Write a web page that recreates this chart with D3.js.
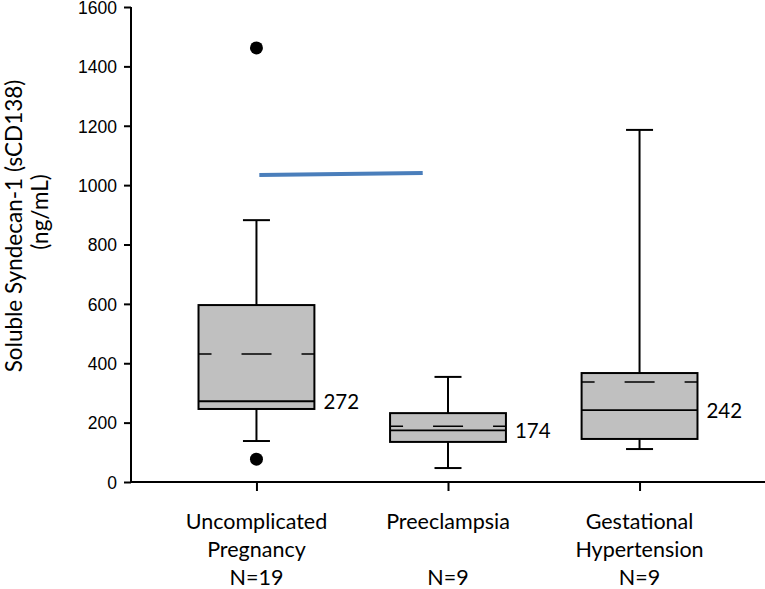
<!DOCTYPE html>
<html>
<head>
<meta charset="utf-8">
<script src="https://cdn.jsdelivr.net/npm/d3@7"></script>
<style>
  html, body { margin: 0; padding: 0; background: #fff; }
  svg { display: block; }
</style>
</head>
<body>
<svg id="chart" width="765" height="589"></svg>
<script>
// ---- data ----
const categories = ["Uncomplicated Pregnancy", "Preeclampsia", "Gestational Hypertension"];
const labelLines = [
  ["Uncomplicated", "Pregnancy", "N=19"],
  ["Preeclampsia", "", "N=9"],
  ["Gestational", "Hypertension", "N=9"]
];
const q1Values = [246, 135, 145];
const q3Values = [596, 232, 367];
const medianValues = [272, 174, 242];
const meanValues = [431, 188, 337];
const whiskerLow = [138, 47, 111];
const whiskerHigh = [882, 354, 1186];
const outlierValues = [[77, 1462], [], []];
const yTicks = [0, 200, 400, 600, 800, 1000, 1200, 1400, 1600];
const refLineValues = [1034, 1041];      // blue annotation line (start, end)
const refLineOffsets = [0.015, 0.868];   // in category steps from first category

// ---- layout ----
const svg = d3.select("#chart");
const y = d3.scaleLinear().domain([0, 1600]).range([482, 7]);
const x = d3.scalePoint().domain(categories).range([131, 765]).padding(0.655);
const step = x.step();
const boxW = step * 0.605;
const capW = 27;
const hfont = "Lato, 'Open Sans', sans-serif";

// y axis
const yAxis = d3.axisLeft(y).tickValues(yTicks).tickSize(7).tickPadding(7).tickFormat(d3.format("d"));
const gy = svg.append("g").attr("transform", "translate(131,0)").call(yAxis);
gy.select(".domain").attr("stroke", "#000").attr("stroke-width", 2).attr("d", `M0,${y(1600)}V${y(0)}`);
gy.selectAll(".tick line").attr("stroke", "#000").attr("stroke-width", 2);
gy.selectAll(".tick text").attr("font-family", "'Liberation Sans', Arial, sans-serif").attr("font-size", 17.5).attr("fill", "#000").attr("dy", "0.36em");

// x axis
const xAxis = d3.axisBottom(x).tickSize(9).tickFormat("");
const gx = svg.append("g").attr("transform", `translate(0,${y(0)})`).call(xAxis);
gx.select(".domain").attr("stroke", "#000").attr("stroke-width", 2).attr("d", "M131,0H765");
gx.selectAll(".tick line").attr("stroke", "#000").attr("stroke-width", 2);

// category labels
categories.forEach((c, i) => {
  labelLines[i].forEach((t, j) => {
    if (!t) return;
    svg.append("text")
      .attr("x", x(c)).attr("y", 529 + j * 28)
      .attr("text-anchor", "middle")
      .attr("font-family", hfont).attr("font-size", 21.5).attr("fill", "#000")
      .text(t);
  });
});

// y axis title
const titleG = svg.append("g").attr("font-family", hfont).attr("fill", "#000").attr("text-anchor", "middle");
titleG.append("text").attr("transform", "translate(22,226) rotate(-90)").attr("font-size", 22.5).text("Soluble Syndecan-1 (sCD138)");
titleG.append("text").attr("transform", "translate(48,212) rotate(-90)").attr("font-size", 22.5).text("(ng/mL)");

// boxes
categories.forEach((c, i) => {
  const cx = x(c);
  const g = svg.append("g");
  // whiskers
  g.append("line").attr("x1", cx).attr("x2", cx).attr("y1", y(q3Values[i])).attr("y2", y(whiskerHigh[i]))
    .attr("stroke", "#000").attr("stroke-width", 2);
  g.append("line").attr("x1", cx).attr("x2", cx).attr("y1", y(q1Values[i])).attr("y2", y(whiskerLow[i]))
    .attr("stroke", "#000").attr("stroke-width", 2);
  g.append("line").attr("x1", cx - capW / 2).attr("x2", cx + capW / 2).attr("y1", y(whiskerHigh[i])).attr("y2", y(whiskerHigh[i]))
    .attr("stroke", "#000").attr("stroke-width", 2);
  g.append("line").attr("x1", cx - capW / 2).attr("x2", cx + capW / 2).attr("y1", y(whiskerLow[i])).attr("y2", y(whiskerLow[i]))
    .attr("stroke", "#000").attr("stroke-width", 2);
  // box
  g.append("rect").attr("x", cx - boxW / 2).attr("width", boxW)
    .attr("y", y(q3Values[i])).attr("height", y(q1Values[i]) - y(q3Values[i]))
    .attr("fill", "#c0c0c0").attr("stroke", "#000").attr("stroke-width", 2);
  // median
  g.append("line").attr("x1", cx - boxW / 2).attr("x2", cx + boxW / 2).attr("y1", y(medianValues[i])).attr("y2", y(medianValues[i]))
    .attr("stroke", "#000").attr("stroke-width", 1.8);
  // mean (dashed)
  g.append("line").attr("x1", cx - boxW / 2).attr("x2", cx + boxW / 2).attr("y1", y(meanValues[i])).attr("y2", y(meanValues[i]))
    .attr("stroke", "#000").attr("stroke-width", 1.5).attr("stroke-dasharray", "13 30 30 30 13");
  // outliers
  outlierValues[i].forEach(v => {
    g.append("circle").attr("cx", cx).attr("cy", y(v)).attr("r", 6.5).attr("fill", "#000");
  });
  // median label
  g.append("text").attr("x", cx + boxW / 2 + 9).attr("y", y(medianValues[i]))
    .attr("dy", "0.36em").attr("font-family", hfont).attr("font-size", 20.5).attr("fill", "#000")
    .text(medianValues[i]);
});

// blue annotation line
const x0 = x(categories[0]);
svg.append("line")
  .attr("x1", x0 + refLineOffsets[0] * step).attr("x2", x0 + refLineOffsets[1] * step)
  .attr("y1", y(refLineValues[0])).attr("y2", y(refLineValues[1]))
  .attr("stroke", "#4a7ebb").attr("stroke-width", 4);
</script>
</body>
</html>
